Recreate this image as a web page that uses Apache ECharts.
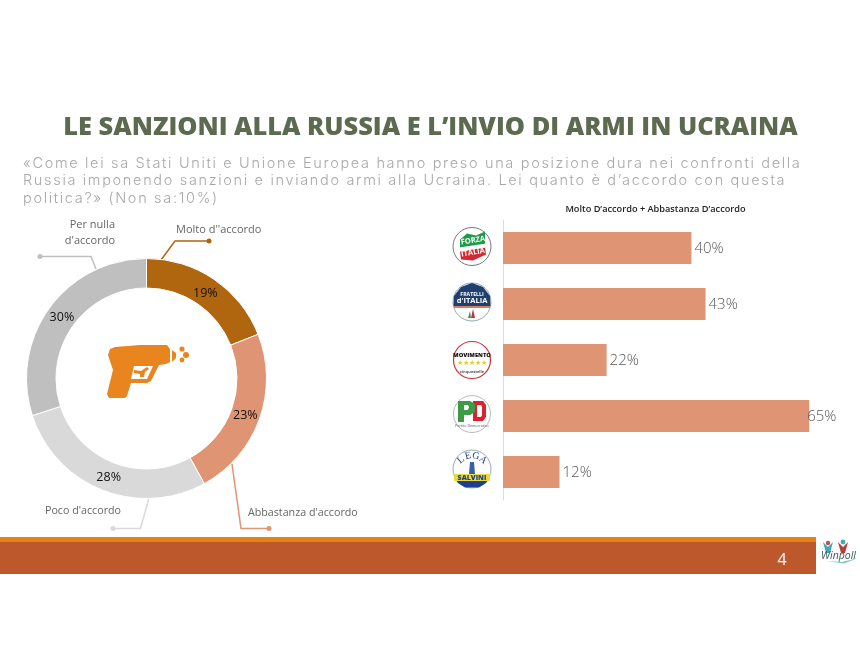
<!DOCTYPE html>
<html>
<head>
<meta charset="utf-8">
<title>Le sanzioni alla Russia</title>
<script src="https://cdn.jsdelivr.net/npm/echarts@6/dist/echarts.min.js"></script>
<style>
html, body { margin: 0; padding: 0; background: #fff; }
#wrap { position: relative; width: 860px; height: 665px; }
#main { width: 860px; height: 665px; }
.question {
    position: absolute; left: 23px; top: 154px;
    font: 300 14.5px/17.3px Inter, sans-serif;
    color: #A8A8A8; letter-spacing: 1.67px; white-space: nowrap;
}
</style>
</head>
<body>
<div id="wrap">
    <div id="main"></div>
    <div class="question" id="question"></div>
</div>
<script>
// dati
const titleText = 'LE SANZIONI ALLA RUSSIA E L\u2019INVIO DI ARMI IN UCRAINA';
const questionLines = [
    '\u00abCome lei sa Stati Uniti e Unione Europea hanno preso una posizione dura nei confronti della',
    'Russia imponendo sanzioni e inviando armi alla Ucraina. Lei quanto \u00e8 d\u2019accordo con questa',
    'politica?\u00bb (Non sa:10%)'
];
const donutNames = ['Molto d\'\'accordo', 'Abbastanza d\'accordo', 'Poco d\'accordo', 'Per nulla d\'accordo'];
const donutValues = [19, 23, 28, 30];
const donutColors = ['#B0650F', '#DF9473', '#D9D9D9', '#BFBFBF'];
const donutLabelOffsets = [[-2, 4], [-3, 0], [2, -2], [3, 3]];
const parties = ['Forza Italia', 'Fratelli d\'Italia', 'Movimento 5 Stelle', 'Partito Democratico', 'Lega'];
const partyValues = [40, 43, 22, 65, 12];
const barTitle = 'Molto D\u2019accordo + Abbastanza D\u2019accordo';
const FONT = '"Open Sans", sans-serif';

// la domanda ha una spaziatura larga che il canvas non fa: sta in html
document.getElementById('question').innerHTML = questionLines.join('<br>');

// testo semplice
const label = (x, y, text, size, color, align, extra, rotation) => ({
    type: 'text', x: x, y: y, rotation: rotation || 0, silent: true,
    style: Object.assign({ text: text, fontSize: size, fontFamily: FONT, fill: color, align: align || 'left', verticalAlign: 'middle' }, extra || {})
});
// linea guida con pallino finale
const leader = (points, color) => [
    { type: 'polyline', silent: true, shape: { points: points }, style: { stroke: color, lineWidth: 1.5, fill: null } },
    { type: 'circle', silent: true, shape: { cx: points[points.length - 1][0], cy: points[points.length - 1][1], r: 2.5 }, style: { fill: color } }
];
const poly = (points, fill, smooth) => ({ type: 'polygon', silent: true, shape: { points: points, smooth: smooth || 0 }, style: { fill: fill } });
const disc = (cx, cy, r, fill, stroke, lw) => ({ type: 'circle', silent: true, shape: { cx: cx, cy: cy, r: r }, style: { fill: fill, stroke: stroke || null, lineWidth: lw || 0 } });

// icona pistola al centro
const gunIcon = () => [
    poly([[115, 347], [140, 345], [167, 345], [170, 349], [170, 362], [166, 364], [159, 365], [151, 381], [147, 383], [131, 383], [127, 396], [125, 398], [109, 398], [107, 394], [113, 370], [108, 355], [110, 349]], '#E8851E'),
    poly([[172, 350], [176, 353], [176, 358], [172, 362]], '#E8851E'),
    poly([[134, 366], [153, 366], [147, 379], [131, 379]], '#fff'),
    poly([[134, 370], [141, 371], [147, 367], [149, 369], [145, 372], [144, 377], [140, 377], [140, 374], [134, 373]], '#E8851E'),
    disc(182, 349, 2.6, '#E8851E'),
    disc(186, 355, 3, '#E8851E'),
    disc(182, 360, 2.4, '#E8851E')
];

// loghi dei partiti, disegnati a mano in piccolo
const logoX = 472;
const logoForza = (y) => [
    disc(logoX, y, 19, '#fff', '#777', 1),
    poly([[logoX - 12, y - 7], [logoX - 5, y - 13], [logoX + 4, y - 11], [logoX + 13, y - 15], [logoX + 13, y + 1], [logoX - 12, y + 5]], '#1E9A4B'),
    poly([[logoX - 12, y + 5], [logoX + 13, y + 1], [logoX + 14, y + 8], [logoX + 1, y + 14], [logoX - 11, y + 13]], '#D62832'),
    poly([[logoX - 13, y + 1], [logoX + 14, y - 3], [logoX + 14, y + 1], [logoX - 13, y + 5]], '#fff'),
    label(logoX + 1, y - 6, 'FORZA', 7.5, '#fff', 'center', { fontWeight: 700 }, 0.16),
    label(logoX + 1, y + 6, 'ITALIA', 7.5, '#fff', 'center', { fontWeight: 700 }, 0.16)
];
const logoFratelli = (y) => [
    disc(logoX, y, 19, '#fff', '#8aa', 1),
    poly([[logoX - 18.5, y + 4], [logoX - 18, y - 6], [logoX - 11, y - 15], [logoX, y - 19], [logoX + 11, y - 15], [logoX + 18, y - 6], [logoX + 18.5, y + 4]], '#1F3F6E'),
    poly([[logoX - 18, y + 4], [logoX + 18, y + 4], [logoX + 18, y + 6], [logoX - 18, y + 6]], '#D87B63'),
    label(logoX, y - 7, 'FRATELLI', 5.2, '#fff', 'center', { fontWeight: 700 }),
    label(logoX, y - 1, 'd\'ITALIA', 7.5, '#fff', 'center', { fontWeight: 700 }),
    poly([[logoX - 4, y + 16], [logoX - 2, y + 9], [logoX - 1, y + 16]], '#2E9A4B'),
    poly([[logoX - 1, y + 16], [logoX + 1, y + 7], [logoX + 3, y + 16]], '#D62832')
];
const logoM5s = (y) => [
    disc(logoX, y, 18.5, '#fff', '#C8323A', 1.2),
    label(logoX, y - 4.5, 'MOVIMENTO', 5.8, '#111', 'center', { fontWeight: 800 }),
    label(logoX, y + 3, '\u2605\u2605\u2605\u2605\u2605', 6.5, '#E3C92B', 'center'),
    label(logoX, y + 12, 'cinquestelle', 4, '#555', 'center', { fontWeight: 700 })
];
const logoPd = (y) => [
    disc(logoX, y, 18.5, '#fff', '#bbb', 1),
    poly([[logoX + 1, y - 13], [logoX + 11, y - 13], [logoX + 14, y - 9], [logoX + 14, y + 3], [logoX + 11, y + 7], [logoX + 1, y + 7]], '#D9232E'),
    poly([[logoX + 5, y - 9], [logoX + 9, y - 9], [logoX + 10, y - 7], [logoX + 10, y + 1], [logoX + 9, y + 3], [logoX + 5, y + 3]], '#fff'),
    poly([[logoX - 14, y - 13], [logoX - 2, y - 13], [logoX + 3, y - 10], [logoX + 3, y - 2], [logoX - 2, y + 1], [logoX - 8, y + 1], [logoX - 8, y + 8], [logoX - 14, y + 8]], '#3E9B45'),
    poly([[logoX - 8, y - 9], [logoX - 4, y - 9], [logoX - 3, y - 7], [logoX - 4, y - 4], [logoX - 8, y - 4]], '#fff'),
    label(logoX, y + 12, 'Partito Democratico', 3.6, '#555', 'center')
];
const logoLega = (y) => [
    disc(logoX, y, 19, '#fff', '#9ab', 1),
    poly([[logoX - 18, y + 9], [logoX + 18, y + 9], [logoX + 14, y + 14], [logoX + 7, y + 18.5], [logoX - 7, y + 18.5], [logoX - 14, y + 14]], '#1F3F8E'),
    poly([[logoX - 18, y + 5], [logoX + 18, y + 5], [logoX + 18, y + 12], [logoX - 18, y + 12]], '#E9D93A'),
    label(logoX, y + 8.5, 'SALVINI', 7, '#1F3F8E', 'center', { fontWeight: 800 }),
    label(logoX - 11, y - 9, 'L', 10, '#1F3F8E', 'center', { fontFamily: '"Liberation Serif", serif' }, 0.7),
    label(logoX - 4, y - 13, 'E', 10, '#1F3F8E', 'center', { fontFamily: '"Liberation Serif", serif' }, 0.25),
    label(logoX + 4, y - 13, 'G', 10, '#1F3F8E', 'center', { fontFamily: '"Liberation Serif", serif' }, -0.25),
    label(logoX + 11, y - 9, 'A', 10, '#1F3F8E', 'center', { fontFamily: '"Liberation Serif", serif' }, -0.7),
    poly([[logoX - 2, y - 7], [logoX + 2, y - 7], [logoX + 3, y + 5], [logoX - 3, y + 5]], '#3A5FA8')
];

// logo winpoll in basso a destra
const winpollLogo = () => [
    disc(828, 543, 2.2, '#C0504D'),
    disc(843, 542, 2.4, '#3FA9B5'),
    poly([[823, 542], [828, 547], [833, 542], [830, 553], [826, 553]], '#3FA9B5'),
    poly([[838, 542], [843, 547], [848, 542], [845, 553], [841, 553]], '#B5403A'),
    label(838.5, 556, 'Winpoll', 10.5, '#3a5560', 'center', { fontStyle: 'italic' }),
    poly([[826, 561], [842, 562], [858, 558], [844, 563.5]], '#7CC6CF')
];

const graphics = [].concat(
    label(115, 225, 'Per nulla', 11, '#666', 'right'),
    label(115, 241, 'd\'accordo', 11, '#666', 'right'),
    label(176, 229.5, donutNames[0], 11, '#666'),
    label(248, 513, donutNames[1], 10.7, '#666'),
    label(45, 511, donutNames[2], 10.7, '#666'),
    leader([[161, 260], [175, 241], [209, 241]], donutColors[0]),
    leader([[232, 464], [241, 528.5], [269, 528.5]], donutColors[1]),
    leader([[149, 498], [140.5, 528.5], [113, 528.5]], donutColors[2]),
    leader([[96, 269], [91, 256.5], [40, 256.5]], donutColors[3]),
    gunIcon(),
    logoForza(246.5), logoFratelli(302), logoM5s(360), logoPd(414), logoLega(469),
    { type: 'rect', silent: true, shape: { x: 0, y: 537, width: 816, height: 5 }, style: { fill: '#E48312' } },
    { type: 'rect', silent: true, shape: { x: 0, y: 542, width: 816, height: 32 }, style: { fill: '#BD582C' } },
    label(782, 560, '4', 16, '#fff', 'center'),
    winpollLogo()
);

const chart = echarts.init(document.getElementById('main'));
chart.setOption({
    animation: false,
    backgroundColor: '#fff',
    title: [
        {
            text: titleText, left: 425.5, top: 110, textAlign: 'center',
            textStyle: { fontFamily: FONT, fontSize: 25.4, fontWeight: 800, color: '#5C6A4F' }
        },
        {
            text: barTitle, left: 650.5, top: 200, textAlign: 'center',
            textStyle: { fontFamily: FONT, fontSize: 9.2, fontWeight: 600, color: '#222' }
        }
    ],
    grid: { left: 503, top: 220, width: 329.7, height: 280 },
    xAxis: { type: 'value', min: 0, max: 70, show: false },
    yAxis: {
        type: 'category', data: parties, inverse: true,
        axisLine: { show: true, lineStyle: { color: '#DDDDDD' } },
        axisTick: { show: false },
        axisLabel: { show: false }
    },
    series: [
        {
            type: 'pie',
            center: [146.5, 378.5],
            radius: [90.5, 120],
            startAngle: 90,
            silent: true,
            data: donutNames.map((n, i) => ({
                name: n, value: donutValues[i],
                itemStyle: { color: donutColors[i] },
                label: { offset: donutLabelOffsets[i] }
            })),
            itemStyle: { borderColor: '#fff', borderWidth: 1 },
            label: {
                position: 'inside', formatter: '{c}%',
                fontFamily: FONT, fontSize: 12.5, fontWeight: 500, color: '#111'
            },
            labelLine: { show: false }
        },
        {
            type: 'bar',
            barWidth: 32,
            silent: true,
            itemStyle: { color: '#DF9473' },
            data: partyValues.map((v) => (v > 60 ? { value: v, label: { distance: -2 } } : v)),
            label: {
                show: true, position: 'right', distance: 3, formatter: '{c}%', offset: [0, 1],
                fontFamily: FONT, fontSize: 15, fontWeight: 300, color: '#595959'
            }
        }
    ],
    graphic: { elements: graphics }
});
</script>
</body>
</html>
